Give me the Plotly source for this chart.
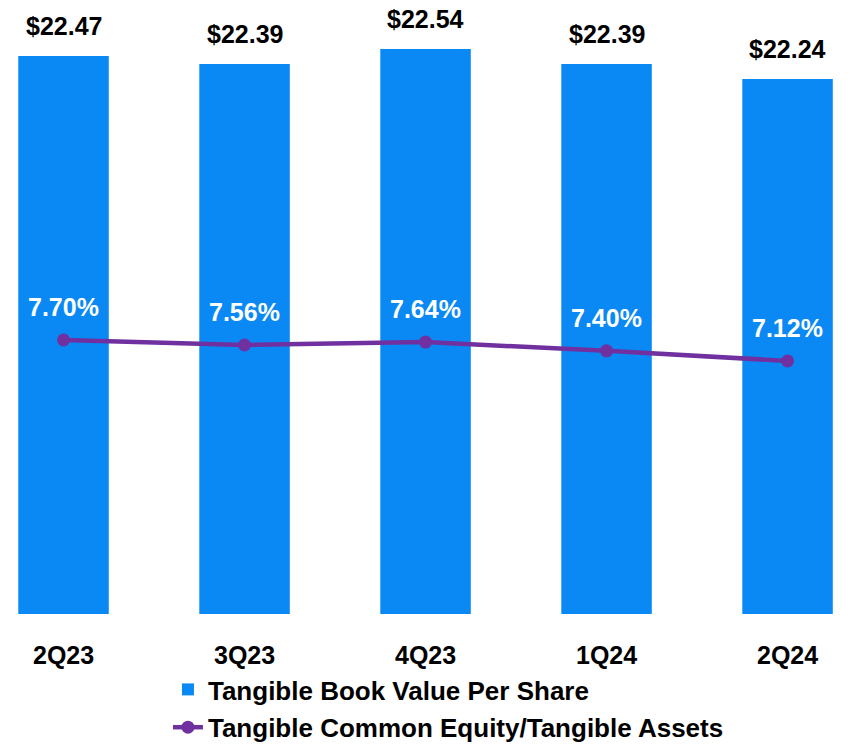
import plotly.graph_objects as go

# quarters and values
quarters = ["2Q23", "3Q23", "4Q23", "1Q24", "2Q24"]
tbvps = [22.47, 22.39, 22.54, 22.39, 22.24]
tce_ratio = [7.70, 7.56, 7.64, 7.40, 7.12]

bar_color = "#0A89F5"
line_color = "#7030A0"
font_family = "Liberation Sans, Arial, sans-serif"

fig = go.Figure()
fig.add_trace(go.Bar(x=quarters, y=tbvps, name="Tangible Book Value Per Share",
                     marker=dict(color=bar_color, line=dict(width=0)), width=0.5,
                     legendgroup="a"))
fig.add_trace(go.Scatter(x=quarters, y=tce_ratio, yaxis="y2", mode="lines+markers",
                         name="Tangible Common Equity/Tangible Assets",
                         line=dict(color=line_color, width=4.5),
                         marker=dict(color=line_color, size=13), legendgroup="b"))

annotations = []
for q, v in zip(quarters, tbvps):
    annotations.append(dict(x=q, y=v, xref="x", yref="y", text="$%.2f" % v, showarrow=False,
                            yanchor="middle", yshift=30,
                            font=dict(size=25, color="black", family=font_family, weight="bold")))
for q, v in zip(quarters, tce_ratio):
    annotations.append(dict(x=q, y=v, xref="x", yref="y2", text="%.2f%%" % v, showarrow=False,
                            yanchor="middle", yshift=33,
                            font=dict(size=25, color="white", family=font_family, weight="bold")))
# category labels under the bars
for q in quarters:
    annotations.append(dict(x=q, y=0, xref="x", yref="paper", text=q, showarrow=False,
                            yanchor="middle", yshift=-41,
                            font=dict(size=25, color="black", family=font_family, weight="bold")))

fig.update_layout(
    width=850, height=746,
    # no autoexpand: the legend must not squeeze the plot area
    margin=dict(l=0, r=0, t=0, b=132, autoexpand=False),
    paper_bgcolor="white", plot_bgcolor="white",
    font=dict(family=font_family, color="black"),
    xaxis=dict(range=[-0.351, 4.345], showticklabels=False, showgrid=False, zeroline=False,
               showline=False, ticks=""),
    yaxis=dict(range=[16.89, 23.03], visible=False),
    yaxis2=dict(range=[0.13, 17.09], overlaying="y", visible=False),
    showlegend=True,
    legend=dict(x=0.1976, y=-0.0847, xanchor="left", yanchor="top", orientation="v",
                font=dict(size=26, color="black", family=font_family, weight="bold"),
                bgcolor="rgba(0,0,0,0)", tracegroupgap=1),
    annotations=annotations,
)

# drop the default 8px body margin so the figure fills the window
fig.write_html("out.html", config={"displayModeBar": False},
               post_script="document.body.style.margin='0';")
